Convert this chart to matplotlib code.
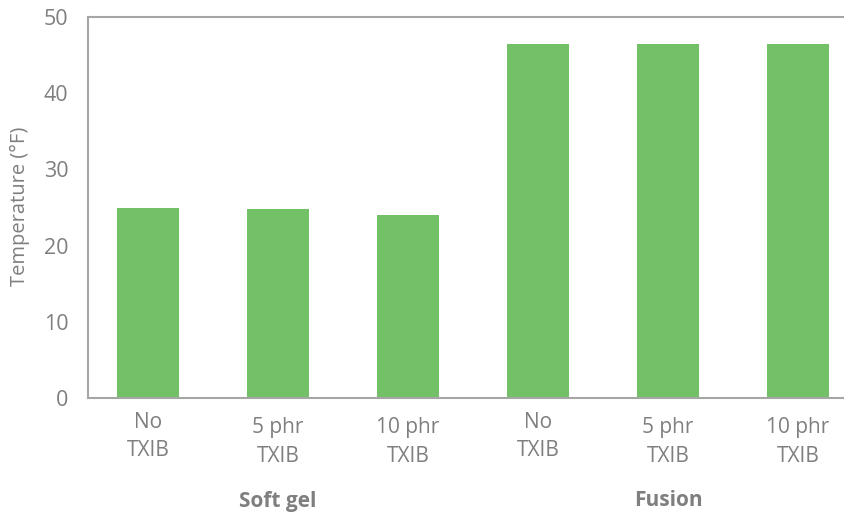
import matplotlib
matplotlib.use("Agg")
import matplotlib.pyplot as plt
import matplotlib.transforms as mtransforms

plt.rcParams['font.family'] = ['Open Sans', 'DejaVu Sans']

categories = ["No\nTXIB", "5 phr\nTXIB", "10 phr\nTXIB", "No\nTXIB", "5 phr\nTXIB", "10 phr\nTXIB"]
values = [24.9, 24.8, 24.0, 46.5, 46.5, 46.5]
groups = ["Soft gel", "Fusion"]
group_centers = [1, 4]
yticks = [0, 10, 20, 30, 40, 50]

green = "#73C167"
grey_text = "#7F7F7F"
spine_col = "#A6A6A6"

W, H = 845, 518
fig = plt.figure(figsize=(W / 100, H / 100), dpi=100)
left, right = 88, 845
bottom, top = 397.7, 17.3
ax = fig.add_axes([left / W, (H - bottom) / H, (right - left) / W, (bottom - top) / H])

x = list(range(len(values)))
ax.bar(x, values, width=0.477, color=green, zorder=2)

slot = 130.0
ax.set_xlim(-(148 - left) / slot, (right - 148) / slot)
ax.set_ylim(0, 50)
ax.set_yticks(yticks)
ax.set_yticklabels([str(t) for t in yticks], fontsize=15.5, color=grey_text)
ax.tick_params(axis='y', length=0, pad=14)
ax.set_xticks([])

for s in ['left', 'bottom', 'top']:
    ax.spines[s].set_color(spine_col)
    ax.spines[s].set_linewidth(1.5)
ax.spines['right'].set_visible(False)

trans = mtransforms.blended_transform_factory(ax.transData, fig.transFigure)
for xi, lab in zip(x, categories):
    first = lab.split("\n")[0]
    y0 = 1 - 422 / H if first == "No" else 1 - 428 / H
    y1 = 1 - 451 / H if first == "No" else 1 - 457 / H
    ax.text(xi, y0, first, transform=trans, ha='center', va='center', fontsize=15, color=grey_text)
    ax.text(xi, y1, lab.split("\n")[1], transform=trans, ha='center', va='center', fontsize=15, color=grey_text)

for gc, g in zip(group_centers, groups):
    ax.text(gc, 1 - 501 / H, g, transform=trans, ha='center', va='center', fontsize=15,
            fontweight='bold', color=grey_text)

fig.text(20 / W, 1 - 206 / H, "Temperature (°F)", rotation=90, ha='center', va='center',
         fontsize=14.5, color=grey_text)

fig.savefig("out.png", dpi=100)
